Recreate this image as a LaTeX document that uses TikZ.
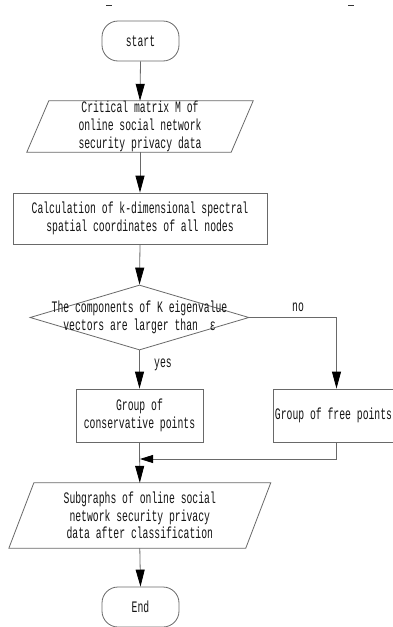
\documentclass[tikz,border=0pt]{standalone}
\usepackage{fontspec}
\setmonofont{Liberation Mono}[FakeStretch=0.61]
\usetikzlibrary{arrows.meta,shapes.geometric,calc}
\definecolor{ln}{RGB}{105,105,105}
\definecolor{tx}{RGB}{20,20,20}
\begin{document}
\begin{tikzpicture}[x=1pt,y=-1pt,
  font=\ttfamily\fontsize{16}{17.7}\selectfont,
  every node/.style={text=tx},
  line/.style={draw=ln,line width=0.8pt},
  conn/.style={line,-{Triangle[length=17pt,width=9pt,color=black]}},
  connsmall/.style={line,-{Triangle[length=13pt,width=8pt,color=black]}},
  term/.style={line,rectangle,rounded corners=16pt,minimum width=77pt,minimum height=40pt,inner sep=0pt},
  stepbox/.style={line,rectangle,inner sep=0pt,align=center},
  paratext/.style={rectangle,inner sep=0pt,align=center},
  decision/.style={line,diamond,inner sep=0pt,minimum width=219pt,minimum height=65pt},
  lbl/.style={inner sep=0pt}
]
\useasboundingbox (0,0) rectangle (393,627);
\fill[white] (0,0) rectangle (393,627);
% top marks
\draw[black!80,line width=1.3pt] (106,5.5) coordinate (ma) -- (112,5.5) coordinate (mb);
\draw[black!80,line width=1.3pt] (348,5.5) coordinate (mc) -- (354,5.5) coordinate (md);

\node[term] (start) at (140.5,41) {start};

\node[paratext,minimum width=204pt,minimum height=51pt] (p1) at (140,126.5)
  {Critical matrix M of\\online social network\\security privacy data};
\draw[line] ($(p1.north west)+(11,0)$) -- ($(p1.north east)+(11,0)$)
  -- ($(p1.south east)+(-11,0)$) -- ($(p1.south west)+(-11,0)$) -- cycle;

\node[stepbox,minimum width=254pt,minimum height=51pt] (r1) at (140,218.5)
  {Calculation of k-dimensional spectral\\spatial coordinates of all nodes};

\node[decision] (d) at (139.5,317.5) {};
\node[paratext] (dtext) at (139.5,317.5)
  {The components of K eigenvalue\\vectors are larger than~ ε};

\node[stepbox,minimum width=127pt,minimum height=53pt] (cons) at (139.5,415.5)
  {Group of\\conservative points};
\node[stepbox,minimum width=127pt,minimum height=53pt] (free) at (336.5,415.5) {};
\node[paratext] (freetext) at (333.5,415.5) {Group of free points};

\node[paratext,minimum width=236.5pt,minimum height=65pt] (p2) at (139.8,515.5)
  {Subgraphs of online social\\network security privacy\\data after classification};
\draw[line] ($(p2.north west)+(12.5,0)$) -- ($(p2.north east)+(12.5,0)$)
  -- ($(p2.south east)+(-12.5,0)$) -- ($(p2.south west)+(-12.5,0)$) -- cycle;

\node[term] (end) at (140.5,607) {End};

\node[lbl] (no) at (298,307) {no};
\node[lbl] (yes) at (163,365) {yes};

\coordinate (m) at (140,459);

\draw[conn] (start.south) -- (p1.north);
\draw[conn] (p1.south) -- (r1.north);
\draw[conn] (r1.south) -- (d.north);
\draw[conn] (d.south) -- (cons.north);
\draw[conn] (d.east) -| (free.north);
\draw[connsmall] (free.south) |- (m);
\draw[conn] (cons.south) -- (p2.north);
\draw[conn] (p2.south) -- (end.north);
\end{tikzpicture}
\end{document}
